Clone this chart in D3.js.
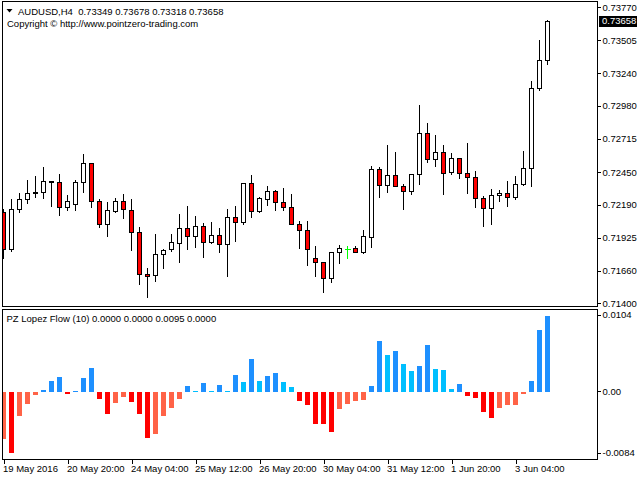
<!DOCTYPE html>
<html>
<head>
<meta charset="utf-8">
<script src="https://cdn.jsdelivr.net/npm/d3@7"></script>
<style>
  html, body { margin: 0; padding: 0; background: #fff; }
  svg { display: block; font-family: "Liberation Sans", Arial, sans-serif; }
  text { white-space: pre; }
</style>
</head>
<body>
<svg id="chart" width="640" height="480"></svg>
<script>
// AUDUSD H4 candles
var opens = [0.72128,0.71832,0.72152,0.72232,0.72280,0.72288,0.72368,0.72368,0.72168,0.72192,
  0.72368,0.72520,0.72216,0.72032,0.72140,0.72216,0.72144,0.71968,0.71632,0.71624,
  0.71792,0.71832,0.71880,0.72000,0.71936,0.72016,0.71888,0.71944,0.71872,0.72088,
  0.72048,0.72360,0.72136,0.72232,0.72296,0.72208,0.72168,0.72032,0.71984,0.71760,
  0.71728,0.71600,0.71808,0.71832,0.71840,0.71808,0.71928,0.72472,0.72344,0.72424,
  0.72336,0.72296,0.72432,0.72760,0.72552,0.72608,0.72448,0.72560,0.72440,0.72408,
  0.72240,0.72160,0.72264,0.72280,0.72248,0.72352,0.72480,0.73120,0.73349];
var highs = [0.72160,0.72240,0.72288,0.72392,0.72428,0.72498,0.72386,0.72440,0.72274,0.72394,
  0.72600,0.72522,0.72240,0.72216,0.72248,0.72280,0.72240,0.72016,0.71690,0.71960,
  0.71840,0.71960,0.72120,0.72184,0.72104,0.72048,0.72056,0.72008,0.72160,0.72184,
  0.72362,0.72432,0.72256,0.72344,0.72312,0.72328,0.72280,0.72068,0.72066,0.71864,
  0.71736,0.71808,0.71872,0.71864,0.71864,0.71992,0.72504,0.72496,0.72672,0.72616,
  0.72360,0.72440,0.72992,0.72848,0.72752,0.72672,0.72608,0.72568,0.72688,0.72464,
  0.72264,0.72320,0.72312,0.72384,0.72424,0.72624,0.73184,0.73512,0.73678];
var lows = [0.71760,0.71822,0.72132,0.72200,0.72252,0.72244,0.72180,0.72108,0.72146,0.72148,
  0.72292,0.72172,0.72012,0.71940,0.72132,0.72084,0.71826,0.71552,0.71448,0.71576,
  0.71680,0.71816,0.71728,0.71836,0.71852,0.71768,0.71880,0.71808,0.71616,0.71896,
  0.72032,0.72092,0.72128,0.72184,0.72144,0.72144,0.72032,0.71844,0.71710,0.71622,
  0.71488,0.71568,0.71720,0.71760,0.71808,0.71800,0.71848,0.72252,0.72292,0.72336,
  0.72152,0.72272,0.72352,0.72528,0.72496,0.72272,0.72432,0.72400,0.72280,0.72168,
  0.72016,0.72032,0.72216,0.72176,0.72232,0.72344,0.72336,0.73104,0.73318];
var closes = [0.71832,0.72152,0.72232,0.72280,0.72290,0.72376,0.72378,0.72168,0.72216,0.72368,
  0.72520,0.72216,0.72032,0.72144,0.72216,0.72152,0.71968,0.71632,0.71622,0.71792,
  0.71824,0.71888,0.72000,0.71936,0.72016,0.71888,0.71944,0.71872,0.72088,0.72048,
  0.72360,0.72136,0.72240,0.72296,0.72208,0.72168,0.72032,0.71984,0.71832,0.71728,
  0.71600,0.71808,0.71840,0.71832,0.71808,0.71936,0.72472,0.72344,0.72424,0.72336,
  0.72296,0.72432,0.72760,0.72552,0.72608,0.72440,0.72560,0.72440,0.72408,0.72240,
  0.72160,0.72264,0.72280,0.72248,0.72352,0.72480,0.73120,0.73349,0.73658];

// PZ Lopez Flow (10) histogram and which buffer each bar sits in
// R = strong down, T = weak down, B = strong up, S = weak up
var flow = [-0.00585,-0.00761,-0.00297,-0.00147,-0.00034,0.00029,0.00142,0.00192,-0.00021,0.00008,
  0.00179,0.00305,-0.00084,-0.00272,-0.00134,-0.00059,-0.00122,-0.00272,-0.00573,-0.00523,
  -0.00297,-0.00197,-0.00084,0.00079,0.00016,0.00117,0.00016,0.00091,0.00016,0.00217,
  0.00129,0.00417,0.00142,0.00204,0.00242,0.00129,0.00066,-0.00109,-0.00159,-0.00397,
  -0.00397,-0.00498,-0.00209,-0.00147,-0.00109,-0.00097,0.00075,0.00643,0.00467,0.00514,
  0.00355,0.00267,0.00330,0.00593,0.00292,0.00279,0.00041,0.00104,-0.00046,-0.00071,
  -0.00247,-0.00322,-0.00197,-0.00159,-0.00159,-0.00021,0.00142,0.00781,0.00950];
var flowKind = ("TRTTTBBBRB" + "BBRRTTRRRT" + "TTTBSBSBSB" + "SBSBBSSRRR" +
  "RRTTTTBBSB" + "SSBBSSSBRR" + "RRTTTTBBB").split("");

var priceTicks = [0.73770,0.73505,0.73240,0.72980,0.72715,0.72450,0.72190,0.71925,0.71660,0.71400];
var flowTicks = [0.0104, 0.00, -0.0084];
var flowTickLabels = ["0.0104", "0.00", "-0.0084"];
var timeTicks = [0, 8, 16, 24, 32, 40, 48, 56, 64];
var timeLabels = ["19 May 2016","20 May 20:00","24 May 04:00","25 May 12:00","26 May 20:00",
  "30 May 04:00","31 May 12:00","1 Jun 20:00","3 Jun 04:00"];

var symbolText = "AUDUSD,H4  0.73349 0.73678 0.73318 0.73658";
var copyrightText = "Copyright \u00a9 http://www.pointzero-trading.com";
var flowTitle = "PZ Lopez Flow (10) 0.0000 0.0000 0.0095 0.0000";
var lastPrice = 0.73658;

var kindColor = { R: "#ff0000", T: "#ff6347", B: "#1e90ff", S: "#00bfff" };

var svg = d3.select("#chart");
var left = 2.5, right = 597.5;
var mainTop = 1.5, mainBottom = 306.5;
var subTop = 309.5, subBottom = 459.5;

var bars = d3.range(opens.length).map(function(i) {
    return { i: i, o: opens[i], h: highs[i], l: lows[i], c: closes[i], f: flow[i], k: flowKind[i] };
});

var x = d3.scaleLinear().domain([0, opens.length - 1]).range([3.5, 547.5]);
var y = d3.scaleLinear().domain([0.71400, 0.73770]).range([303.3, 7]);
var yFlow = d3.scaleLinear().domain([-0.0084, 0.0104]).range([459, 309]);

function px(v) { return Math.round(v) + 0.5; }

var defs = svg.append("defs");
defs.append("clipPath").attr("id", "clipMain")
    .append("rect").attr("x", left).attr("y", mainTop)
    .attr("width", right - left).attr("height", mainBottom - mainTop);
defs.append("clipPath").attr("id", "clipSub")
    .append("rect").attr("x", left).attr("y", subTop)
    .attr("width", right - left).attr("height", subBottom - subTop);

// Candles
var gCandles = svg.append("g").attr("clip-path", "url(#clipMain)")
    .attr("shape-rendering", "crispEdges");

var candle = gCandles.selectAll("g.candle").data(bars).enter()
    .append("g").attr("class", "candle");

candle.append("line")
    .attr("x1", function(d) { return x(d.i); })
    .attr("x2", function(d) { return x(d.i); })
    .attr("y1", function(d) { return px(y(d.h)); })
    .attr("y2", function(d) { return px(y(d.l)); })
    .attr("stroke", function(d) { return d.o === d.c ? "#00ff00" : "#000"; })
    .attr("stroke-width", 1);

candle.filter(function(d) { return d.o !== d.c; })
    .append("rect")
    .attr("x", function(d) { return x(d.i) - 2; })
    .attr("width", 4)
    .attr("y", function(d) { return px(y(Math.max(d.o, d.c))); })
    .attr("height", function(d) {
        return Math.max(px(y(Math.min(d.o, d.c))) - px(y(Math.max(d.o, d.c))), 1);
    })
    .attr("fill", function(d) { return d.c < d.o ? "#ff0000" : "#fff"; })
    .attr("stroke", "#000")
    .attr("stroke-width", 1);

candle.filter(function(d) { return d.o === d.c; })
    .append("line")
    .attr("x1", function(d) { return x(d.i) - 3; })
    .attr("x2", function(d) { return x(d.i) + 3; })
    .attr("y1", function(d) { return px(y(d.o)); })
    .attr("y2", function(d) { return px(y(d.o)); })
    .attr("stroke", "#00ff00");

// Lopez Flow histogram
var gFlow = svg.append("g").attr("clip-path", "url(#clipSub)")
    .attr("shape-rendering", "crispEdges");

gFlow.selectAll("rect").data(bars).enter()
    .append("rect")
    .attr("x", function(d) { return x(d.i) - 2.5; })
    .attr("width", 5)
    .attr("y", function(d) { return Math.round(Math.min(yFlow(0), yFlow(d.f))); })
    .attr("height", function(d) { return Math.max(Math.round(Math.abs(yFlow(d.f) - yFlow(0))), 1); })
    .attr("fill", function(d) { return kindColor[d.k]; });

// Frames
var frame = svg.append("g").attr("fill", "none").attr("stroke", "#000")
    .attr("shape-rendering", "crispEdges");
frame.append("rect").attr("x", left).attr("y", mainTop)
    .attr("width", right - left).attr("height", mainBottom - mainTop);
frame.append("rect").attr("x", left).attr("y", subTop)
    .attr("width", right - left).attr("height", subBottom - subTop);

// Price axis
var priceAxis = svg.append("g")
    .attr("transform", "translate(" + right + ",0)")
    .call(d3.axisRight(y).tickValues(priceTicks).tickFormat(d3.format(".5f"))
        .tickSize(3).tickPadding(2));
priceAxis.select(".domain").remove();

// Flow axis, end labels pulled inside the pane like the terminal does
var flowAxis = svg.append("g")
    .attr("transform", "translate(" + right + ",0)")
    .call(d3.axisRight(yFlow).tickValues(flowTicks)
        .tickFormat(function(d, i) { return flowTickLabels[i]; })
        .tickSize(3).tickPadding(2));
flowAxis.select(".domain").remove();
flowAxis.selectAll(".tick").attr("transform", function(d) {
    return "translate(0," + Math.max(315, Math.min(453, yFlow(d))) + ")";
});

// Time axis
var timeAxis = svg.append("g")
    .attr("transform", "translate(0," + subBottom + ")")
    .call(d3.axisBottom(x).tickValues(timeTicks)
        .tickFormat(function(d, i) { return timeLabels[i]; })
        .tickSize(4).tickPadding(2));
timeAxis.select(".domain").remove();
timeAxis.selectAll("text").attr("text-anchor", "start").attr("dx", "-1");

svg.selectAll(".tick line").attr("stroke", "#000").attr("shape-rendering", "crispEdges");
svg.selectAll(".tick text").attr("fill", "#000").attr("font-size", "9.5px")
    .attr("font-family", "'Liberation Sans', Arial, sans-serif");

// Last price marker
var lp = Math.round(y(lastPrice));
svg.append("rect").attr("x", 599).attr("y", lp - 5).attr("width", 38).attr("height", 11)
    .attr("fill", "#000");
svg.append("text").attr("x", 602).attr("y", lp).attr("dy", "0.34em")
    .attr("font-size", "9.5px").attr("fill", "#fff")
    .text(d3.format(".5f")(lastPrice));

// Header texts
svg.append("path").attr("d", "M6.5,9L12.5,9L9.5,12.5Z").attr("fill", "#000");
svg.append("text").attr("x", 18).attr("y", 14.5).attr("font-size", "9.5px").text(symbolText);
svg.append("text").attr("x", 7).attr("y", 27).attr("font-size", "9.5px").text(copyrightText);
svg.append("text").attr("x", 6.5).attr("y", 321.5).attr("font-size", "9.5px").text(flowTitle);
</script>
</body>
</html>
